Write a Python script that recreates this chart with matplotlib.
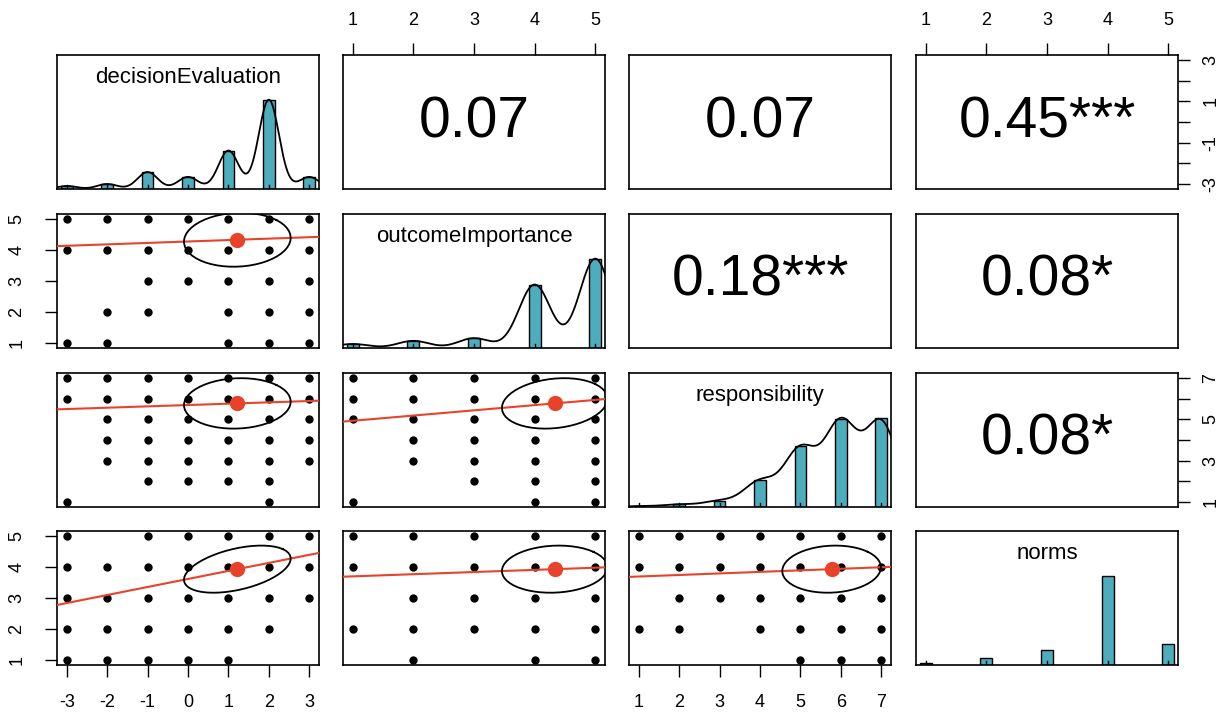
import numpy as np
import matplotlib
matplotlib.use("Agg")
import matplotlib.pyplot as plt

plt.rcParams["font.family"] = ["Liberation Sans", "DejaVu Sans"]

# ── data ──────────────────────────────────────────────────────────────────────
variables = ["decisionEvaluation", "outcomeImportance", "responsibility", "norms"]
levels = [
    [-3, -2, -1, 0, 1, 2, 3],
    [1, 2, 3, 4, 5],
    [1, 2, 3, 4, 5, 6, 7],
    [1, 2, 3, 4, 5],
]
# bar heights relative to the most frequent level
freq = [
    [0.034, 0.056, 0.19, 0.135, 0.43, 1.0, 0.135],
    [0.045, 0.08, 0.11, 0.71, 1.0],
    [0.01, 0.03, 0.07, 0.30, 0.68, 0.99, 1.0],
    [0.02, 0.08, 0.17, 1.0, 0.24],
]
density_bw = [0.25, 0.26, 0.40, None]   # norms has no density curve
means = [1.22, 4.33, 5.77, 3.93]
sds = [1.32, 0.87, 1.22, 0.76]

# correlations, upper triangle (row, col)
corr_r = {(0, 1): 0.07, (0, 2): 0.07, (0, 3): 0.45,
          (1, 2): 0.18, (1, 3): 0.08, (2, 3): 0.08}
corr_text = {(0, 1): "0.07", (0, 2): "0.07", (0, 3): "0.45***",
             (1, 2): "0.18***", (1, 3): "0.08*", (2, 3): "0.08*"}

# observed (x, y) combinations: {(y_var, x_var): {y_level: [x levels]}}
cells = {
    (1, 0): {5: [-3, -2, -1, 0, 1, 2, 3], 4: [-3, -2, -1, 0, 1, 2, 3],
             3: [-1, 0, 1, 2, 3], 2: [-2, -1, 1, 2, 3], 1: [-3, -2, 1, 2, 3]},
    (2, 0): {7: [-3, -2, -1, 0, 1, 2, 3], 6: [-3, -2, -1, 0, 1, 2, 3],
             5: [-2, -1, 0, 1, 2, 3], 4: [-2, -1, 0, 1, 2, 3],
             3: [-2, -1, 0, 1, 2, 3], 2: [-1, 0, 1, 2], 1: [-3, 2]},
    (2, 1): {7: [1, 2, 3, 4, 5], 6: [1, 2, 3, 4, 5], 5: [1, 2, 3, 4, 5],
             4: [2, 3, 4, 5], 3: [2, 3, 4, 5], 2: [3, 4, 5], 1: [1, 4, 5]},
    (3, 0): {5: [-3, -1, 0, 1, 2, 3], 4: [-3, -2, -1, 0, 1, 2, 3],
             3: [-3, -2, -1, 0, 1, 2, 3], 2: [-3, -2, -1, 0, 1, 2],
             1: [-3, -2, -1, 0, 1]},
    (3, 1): {5: [1, 2, 3, 4, 5], 4: [1, 2, 3, 4, 5], 3: [2, 3, 4, 5],
             2: [1, 2, 3, 4, 5], 1: [2, 4, 5]},
    (3, 2): {5: [1, 2, 3, 4, 5, 6, 7], 4: [1, 2, 3, 4, 5, 6, 7],
             3: [2, 3, 4, 5, 6, 7], 2: [1, 2, 4, 5, 6, 7], 1: [5, 6, 7]},
}

HIST_COL = "#4DADBD"
RED = "#E8432A"

W_PX, H_PX = 1230, 713
col_left = [57, 343, 629, 916]
row_top = [55, 214, 373, 531]
PW, PH = 262, 134


def lims(v):
    lo, hi = min(levels[v]), max(levels[v])
    pad = 0.04 * (hi - lo)
    return lo - pad, hi + pad


def kde(v, grid):
    x = np.array(levels[v], float)
    w = np.array(freq[v], float)
    h = density_bw[v]
    d = (w[None, :] * np.exp(-0.5 * ((grid[:, None] - x[None, :]) / h) ** 2)).sum(1)
    return d / d.max()


fig = plt.figure(figsize=(12.3, 7.13), dpi=100)
axes = {}
for i in range(4):
    for j in range(4):
        ax = fig.add_axes([col_left[j] / W_PX, 1 - (row_top[i] + PH) / H_PX,
                           PW / W_PX, PH / H_PX])
        axes[i, j] = ax
        for s in ax.spines.values():
            s.set_linewidth(1.2)
        ax.set_xticks([])
        ax.set_yticks([])
        ax.set_xlim(*lims(j))

        if i == j:
            # histogram + density + rug
            ax.set_ylim(0, 1.5)
            lv = np.array(levels[i], float)
            half = min(np.diff(lv)) * (len(lv) - 1) / 41
            ax.bar(lv, freq[i], width=2 * half, color=HIST_COL,
                   edgecolor="black", linewidth=1.0, zorder=2)
            if density_bw[i] is not None:
                bw = density_bw[i]
                grid = np.linspace(lv.min() - 3 * bw, lv.max() + 3 * bw, 512)
                ax.plot(grid, kde(i, grid), color="black", lw=1.3, zorder=3)
            for x in lv:
                ax.plot([x, x], [0, 0.045], color="black", lw=1.0, zorder=4)
            ax.text(0.5, 0.835, variables[i], transform=ax.transAxes,
                    ha="center", va="center", fontsize=16)
            continue

        ax.set_ylim(*lims(i))
        if i < j:
            ax.text(0.5, 0.5, corr_text[i, j], transform=ax.transAxes,
                    ha="center", va="center", fontsize=41)
            continue

        # scatter panel: x = variable j, y = variable i
        xs, ys = [], []
        for yl, xl in cells[i, j].items():
            xs += xl
            ys += [yl] * len(xl)
        ax.plot(xs, ys, "o", color="black", ms=6.0, mec="none", zorder=2)

        r = corr_r[j, i]
        mx, my, sx, sy = means[j], means[i], sds[j], sds[i]
        slope = r * sy / sx
        xl0, xl1 = ax.get_xlim()
        ax.plot([xl0, xl1], [my + slope * (xl0 - mx), my + slope * (xl1 - mx)],
                color=RED, lw=1.5, zorder=3)

        # correlation ellipse (1 sd), as psych draws it
        ang = np.linspace(0, 2 * np.pi, 52)
        t = np.sign(r) / np.sqrt(2)
        shape = np.diag([np.sqrt(1 + r), np.sqrt(1 - r)]) @ np.array([[t, t], [-t, t]])
        ell = np.column_stack([np.cos(ang), np.sin(ang)]) @ shape
        ax.plot(ell[:, 0] * sx + mx, ell[:, 1] * sy + my, color="black",
                lw=1.3, zorder=4)
        ax.plot(mx, my, "o", color=RED, ms=11, mec="none", zorder=5)


def tick_labels(vals, every=1):
    return [str(v) if k % every == 0 else "" for k, v in enumerate(vals)]


tick_kw = dict(length=8.6, width=1.0, labelsize=13)

# top axes (columns 1 and 3)
for j in (1, 3):
    ax = axes[0, j]
    ax.set_xticks(levels[j], tick_labels(levels[j]))
    ax.tick_params(axis="x", top=True, bottom=False, labeltop=True,
                   labelbottom=False, pad=10, **tick_kw)

# bottom axes (columns 0 and 2)
for j in (0, 2):
    ax = axes[3, j]
    ax.set_xticks(levels[j], tick_labels(levels[j]))
    ax.tick_params(axis="x", pad=12, **tick_kw)

# left axes (rows 1 and 3)
for i in (1, 3):
    ax = axes[i, 0]
    ax.set_yticks(levels[i], tick_labels(levels[i]))
    ax.tick_params(axis="y", pad=14, **tick_kw)
    for tk in ax.yaxis.get_major_ticks():
        lab = tk.label1
        lab.set_rotation(90)
        lab.set_rotation_mode("default")
        lab.set_ha("right")
        lab.set_va("center")

# right axes (rows 0 and 2)
for i in (0, 2):
    ax = axes[i, 3]
    ax.set_yticks(levels[i], tick_labels(levels[i], every=2))
    ax.tick_params(axis="y", left=False, right=True, labelleft=False,
                   labelright=True, pad=9, **tick_kw)
    for tk in ax.yaxis.get_major_ticks():
        lab = tk.label2
        lab.set_rotation(90)
        lab.set_rotation_mode("default")
        lab.set_ha("left")
        lab.set_va("center")

fig.savefig("out.png", dpi=100)
